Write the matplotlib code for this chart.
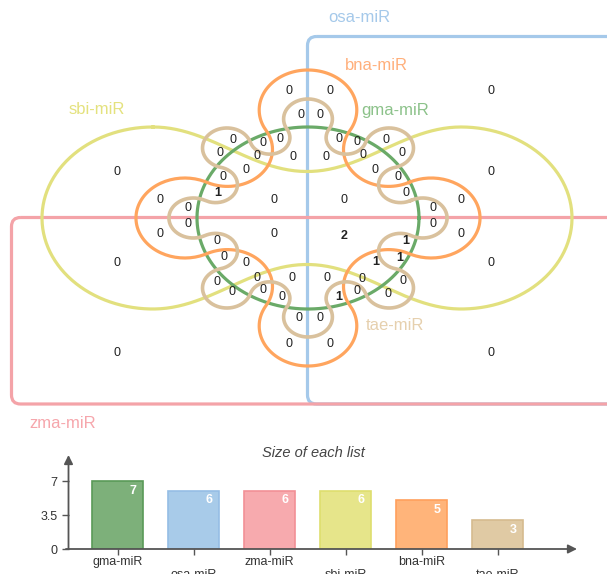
import numpy as np
import matplotlib
matplotlib.use("Agg")
import matplotlib.pyplot as plt
from matplotlib.patches import FancyBboxPatch

plt.rcParams['font.family'] = ['Liberation Sans', 'DejaVu Sans']

# ---------------- data ----------------
set_names = ["gma-miR", "osa-miR", "zma-miR", "sbi-miR", "bna-miR", "tae-miR"]
set_sizes = [7, 6, 6, 6, 5, 3]

# counts of the 63 Venn regions
region_counts = [
    0, 0, 0, 0, 0, 0, 0, 0, 0, 0,
    0, 0, 0, 0, 0, 0, 0, 0, 0, 0,
    1, 0, 0, 0, 0, 0, 0, 0, 0, 0,
    0, 2, 0, 0, 0, 1, 0, 0, 1, 1,
    0, 0, 0, 0, 0, 0, 0, 0, 0, 1,
    0, 0, 0, 0, 0, 0,
    0, 0, 0, 0, 0, 0, 0,
]

# ---------------- layout ----------------
region_xy = [
    (289.3, 90.7), (330, 90.7), (300.7, 115), (320, 115), (232.7, 140),
    (263.3, 142.7), (280, 139), (220, 153.3), (256.7, 155.7), (292.7, 156.7),
    (325.7, 156.7), (339.3, 139.3), (357.3, 142.3), (386, 140), (363.3, 155),
    (402.3, 153.3), (246, 170), (375.3, 170), (223.3, 176.7), (398.3, 176.7),
    (217.3, 193.3), (406, 192.7), (160, 200), (188.3, 207.7), (274, 200),
    (344, 200), (432.7, 208.3), (460.7, 200), (188.3, 224.3), (160, 234),
    (274, 234), (344, 235.7), (432.7, 224.3), (460.7, 234), (216.7, 240.7),
    (405.3, 240.7), (224, 257.3), (246, 263.3), (375.3, 262.3), (399.3, 257.7),
    (216.7, 281.7), (257.3, 278.3), (291.7, 278.3), (327.3, 278.3), (362.3, 279),
    (403.3, 281), (231.7, 292.3), (263.3, 290), (281.7, 297.3), (339, 297.3),
    (357.3, 290.7), (388.3, 294), (299, 318.3), (320, 318.3), (289.3, 344),
    (330, 344),
    (117, 172), (117, 263), (117, 353), (491, 91), (491, 172), (491, 263), (491, 353),
]

W, H = 607, 574
fig = plt.figure(figsize=(W / 100, H / 100), dpi=100)
ax = fig.add_axes([0, 0, 1, 1])
ax.set_xlim(0, W)
ax.set_ylim(H, 0)
ax.axis("off")

C_BLUE, C_RED, C_YEL = "#a5c9ea", "#f4a3a8", "#e2e07e"
C_GRN, C_ORA, C_TAN = "#6aaa68", "#ffa55e", "#d9c19d"
LW = 2.3

CX, CY, SX = 308.0, 218.0, 1.22


def to_px(p):
    return np.column_stack([CX + SX * p[:, 0], CY + p[:, 1]])


def sweep(a0, a1, via):
    d = (a1 - a0) % (2 * np.pi)
    dv = (via - a0) % (2 * np.pi)
    if dv <= d:
        return a0, a0 + d
    return a0, a0 - (2 * np.pi - d)


def chain(circles):
    """Closed curve of circular arcs; each circle joins its neighbours."""
    n = len(circles)
    out = []
    for i in range(n):
        c, r, via = circles[i]
        cp = circles[i - 1][0]
        cn = circles[(i + 1) % n][0]
        a0 = np.arctan2(cp[1] - c[1], cp[0] - c[0])
        a1 = np.arctan2(cn[1] - c[1], cn[0] - c[0])
        s, e = sweep(a0, a1, via)
        t = np.linspace(s, e, 80)
        out.append(np.column_stack([c[0] + r * np.cos(t), c[1] + r * np.sin(t)]))
    pts = np.vstack(out)
    return np.vstack([pts, pts[:1]])


# rounded rectangles (osa, zma)
ax.add_patch(FancyBboxPatch((307.5, 36.5), 340, 367.5,
                            boxstyle="round,pad=0,rounding_size=9",
                            fill=False, ec=C_BLUE, lw=LW, zorder=2))
ax.add_patch(FancyBboxPatch((11.5, 217.5), 640, 186.5,
                            boxstyle="round,pad=0,rounding_size=9",
                            fill=False, ec=C_RED, lw=LW, zorder=2))

# sbi: two lobes joined by wavy necks
yrx, yry, yl, yr = 111, 91, 153, 461
t = np.linspace(np.pi / 2, 3 * np.pi / 2, 120)
left = np.column_stack([yl + yrx * np.cos(t), CY - yry * np.sin(t)])
xs = np.linspace(yl, yr, 160)
bot = np.column_stack([xs, CY + 68.75 + 22.25 * np.cos(2 * np.pi * (xs - yl) / (yr - yl))])
t = np.linspace(-np.pi / 2, np.pi / 2, 120)
right = np.column_stack([yr + yrx * np.cos(t), CY - yry * np.sin(t)])
xs2 = xs[::-1]
top = np.column_stack([xs2, CY - 68.75 - 22.25 * np.cos(2 * np.pi * (xs2 - yl) / (yr - yl))])
ypath = np.vstack([left, bot, right, top])
ax.plot(ypath[:, 0], ypath[:, 1], color=C_YEL, lw=LW, zorder=3, solid_joinstyle="round")

# gma: central ellipse
t = np.linspace(0, 2 * np.pi, 300)
ax.plot(CX + 111 * np.cos(t), CY + 91 * np.sin(t), color=C_GRN, lw=LW, zorder=4)

# bna: four outer lobes linked by four inner arcs
lob_r, dg_r = 40.0, 36.9
ora = []
for k in range(8):
    ang = k * np.pi / 4
    if k % 2 == 0:
        c = np.array([101 * np.cos(ang), 108 * np.sin(ang)])
        ora.append((c, lob_r, ang))
    else:
        c = np.array([66 * np.sign(np.cos(ang)), 68.5 * np.sign(np.sin(ang))])
        ora.append((c, dg_r, ang + np.pi))
op = to_px(chain(ora))
ax.plot(op[:, 0], op[:, 1], color=C_ORA, lw=LW, zorder=5)

# tae: sixteen alternating small bumps
tan = []
r_out = 20.0
centers = []
for k in range(16):
    ang = k * np.pi / 8
    if k % 2 == 0:
        centers.append(np.array([94 * np.cos(ang), 99 * np.sin(ang)]))
    else:
        centers.append(np.array([82 * np.cos(ang), 87 * np.sin(ang)]))
for k in range(16):
    ang = k * np.pi / 8
    if k % 2 == 0:
        tan.append((centers[k], r_out, ang))
    else:
        d = 0.5 * (np.linalg.norm(centers[k] - centers[k - 1]) +
                   np.linalg.norm(centers[k] - centers[(k + 1) % 16]))
        tan.append((centers[k], d - r_out, ang + np.pi))
tp = to_px(chain(tan))
ax.plot(tp[:, 0], tp[:, 1], color=C_TAN, lw=LW + 0.3, zorder=6)

# region counts
for (x, y), n in zip(region_xy, region_counts):
    ax.text(x, y, str(n), ha="center", va="center", fontsize=9,
            fontweight="bold" if n else "normal", color="#222222", zorder=10)

# set names
name_style = [
    ("osa-miR", 328, 18, C_BLUE),
    ("bna-miR", 345, 65, "#ffb07c"),
    ("gma-miR", 361, 110, "#8cc28a"),
    ("sbi-miR", 69, 109, "#e4e27e"),
    ("tae-miR", 366, 325, "#e6d0ae"),
    ("zma-miR", 29, 424, "#f6a6ac"),
]
for name, x, y, col in name_style:
    ax.text(x, y, name, ha="left", va="center", fontsize=12, color=col, zorder=10)

# ---------------- bar chart of set sizes ----------------
bar_fill = ["#7db07a", "#a8cbe9", "#f7aaae", "#e6e58a", "#ffb47a", "#e0caa4"]
bar_edge = ["#5a9a58", "#95bde5", "#f29096", "#dede6e", "#ffa05c", "#d6bb8f"]

x0, x1, yb, yt = 68.5, 577, 549, 455
ax2 = fig.add_axes([x0 / W, 1 - yb / H, (x1 - x0) / W, (yb - yt) / H])
ax2.patch.set_alpha(0)
unit_px = 68 / 7.0
step = 76.0
lo = -(117.5 - x0) / step
ax2.set_xlim(lo, lo + (x1 - x0) / step)
ax2.set_ylim(0, (yb - yt) / unit_px)
for s in ax2.spines.values():
    s.set_visible(False)

pos = np.arange(len(set_names))
bw = 51 / step
ax2.bar(pos, set_sizes, width=bw, color=bar_fill, edgecolor=bar_edge, linewidth=1.2, zorder=2)
for i, v in enumerate(set_sizes):
    ax2.annotate(str(v), xy=(i + bw / 2, v), xytext=(-7, -7), textcoords="offset points",
                 ha="center", va="center", color="white", fontweight="bold", fontsize=9)

axis_col = "#555555"
ax2.annotate("", xy=(1, 0), xytext=(-0.005, 0), xycoords="axes fraction",
             arrowprops=dict(arrowstyle="-|>", color=axis_col, lw=1.3, mutation_scale=13,
                             shrinkA=0, shrinkB=0), annotation_clip=False)
ax2.annotate("", xy=(0, 1), xytext=(0, 0), xycoords="axes fraction",
             arrowprops=dict(arrowstyle="-|>", color=axis_col, lw=1.3, mutation_scale=13,
                             shrinkA=0, shrinkB=0), annotation_clip=False)

ax2.set_yticks([0, 3.5, 7])
ax2.set_yticklabels(["0", "3.5", "7"])
ax2.tick_params(axis="y", direction="out", length=5, width=1, color=axis_col,
                labelsize=9, labelcolor="#333333", pad=3)
ax2.set_xticks(pos)
ax2.set_xticklabels([])
ax2.tick_params(axis="x", direction="out", length=4, width=1, color=axis_col)
for i, name in enumerate(set_names):
    ax2.annotate(name, xy=(i, 0), xytext=(0, -9.5 if i % 2 == 0 else -18.8),
                 textcoords="offset points", ha="center", va="center",
                 fontsize=9, color="#333333", annotation_clip=False)

ax.text(313, 453, "Size of each list", ha="center", va="center", fontsize=10.5,
        style="italic", color="#444444")

fig.savefig("out.png", dpi=100)
